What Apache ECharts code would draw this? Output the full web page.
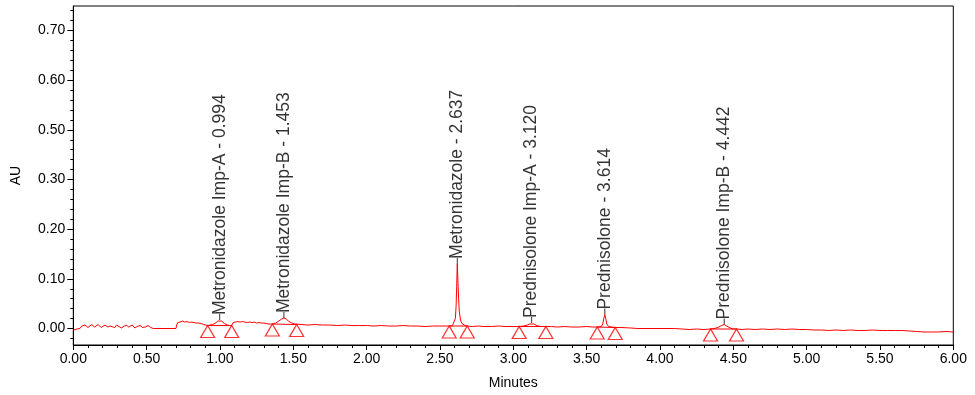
<!DOCTYPE html>
<html>
<head>
<meta charset="utf-8">
<script src="https://cdn.jsdelivr.net/npm/echarts@6/dist/echarts.min.js"></script>
<style>html,body{margin:0;padding:0;background:#fff;}#c{width:975px;height:395px;}</style>
</head>
<body>
<div id="c"></div>
<script>
// ---- data ----
const traceTime = [
0.000,0.012,0.025,0.035,0.045,0.058,0.068,0.080,0.100,0.112,0.125,0.145,0.158,0.170,0.190,0.203,0.216,0.236,0.250,0.262,
0.282,0.295,0.307,0.327,0.340,0.360,0.378,0.390,0.402,0.420,0.435,0.455,0.472,0.490,0.510,0.528,0.545,0.700,0.705,0.712,
0.720,0.728,0.736,0.744,0.752,0.760,0.768,0.776,0.784,0.792,0.800,0.808,0.816,0.824,0.832,0.840,0.848,0.856,0.864,0.872,
0.880,0.890,0.900,0.916,0.930,0.950,0.970,0.985,0.998,1.012,1.030,1.050,1.065,1.080,1.090,1.098,1.106,1.114,1.122,1.130,
1.138,1.146,1.154,1.162,1.170,1.178,1.186,1.194,1.202,1.210,1.218,1.226,1.234,1.242,1.250,1.258,1.266,1.274,1.282,1.290,
1.300,1.310,1.330,1.357,1.380,1.400,1.420,1.436,1.452,1.470,1.490,1.510,1.523,1.560,1.600,1.650,1.700,1.750,1.800,1.850,
1.900,1.950,2.000,2.050,2.100,2.150,2.200,2.250,2.300,2.350,2.400,2.450,2.500,2.563,2.585,2.598,2.605,2.610,2.614,2.618,
2.622,2.627,2.632,2.640,2.650,2.665,2.686,2.720,2.760,2.800,2.850,2.900,2.950,3.000,3.040,3.070,3.095,3.112,3.125,3.140,
3.160,3.185,3.222,3.260,3.300,3.350,3.400,3.450,3.500,3.540,3.572,3.600,3.610,3.617,3.624,3.631,3.638,3.650,3.670,3.695,
3.740,3.800,3.850,4.100,4.110,4.150,4.200,4.250,4.300,4.345,4.370,4.395,4.420,4.438,4.455,4.480,4.500,4.522,4.560,4.600,
4.650,4.700,4.750,4.800,4.850,4.900,4.950,5.000,5.050,5.100,5.150,5.200,5.250,5.300,5.350,5.400,5.450,5.500,5.550,5.600,
5.650,5.700,5.750,5.800,5.850,5.900,5.950,6.000
];
const traceAU = [
-0.003,-0.004,-0.001,0.001,0.000,0.005,0.003,0.007,0.002,0.006,0.008,0.003,0.005,0.008,0.002,0.006,0.007,0.003,0.005,0.008,
0.002,0.007,0.006,0.001,0.005,0.007,0.003,0.004,0.007,0.001,0.004,0.006,0.002,0.003,0.006,0.002,0.000,0.000,0.007,0.012,
0.009,0.013,0.010,0.015,0.011,0.013,0.010,0.014,0.010,0.012,0.009,0.013,0.010,0.012,0.009,0.011,0.008,0.011,0.009,0.010,
0.007,0.008,0.006,0.006,0.007,0.008,0.011,0.015,0.017,0.015,0.010,0.007,0.006,0.006,0.012,0.015,0.013,0.017,0.014,0.016,
0.013,0.017,0.014,0.016,0.013,0.015,0.012,0.016,0.013,0.015,0.012,0.016,0.013,0.014,0.011,0.015,0.012,0.014,0.011,0.013,
0.011,0.009,0.009,0.009,0.011,0.015,0.019,0.021,0.019,0.014,0.011,0.009,0.008,0.008,0.007,0.008,0.007,0.007,0.006,0.007,
0.006,0.006,0.006,0.005,0.006,0.005,0.005,0.006,0.005,0.005,0.004,0.005,0.005,0.005,0.006,0.009,0.020,0.045,0.085,0.130,
0.100,0.060,0.034,0.017,0.010,0.007,0.005,0.004,0.005,0.004,0.004,0.005,0.004,0.004,0.004,0.005,0.007,0.009,0.011,0.009,
0.006,0.004,0.004,0.004,0.003,0.004,0.003,0.003,0.004,0.003,0.003,0.004,0.009,0.020,0.028,0.019,0.009,0.004,0.003,0.002,
0.002,0.001,0.000,0.000,-0.002,-0.001,-0.002,-0.001,-0.002,-0.001,0.000,0.002,0.006,0.008,0.005,0.001,-0.001,-0.001,-0.002,-0.001,
-0.002,-0.001,-0.002,-0.001,-0.002,-0.001,-0.002,-0.002,-0.003,-0.003,-0.004,-0.003,-0.004,-0.003,-0.004,-0.004,-0.003,-0.004,-0.004,-0.004,
-0.004,-0.005,-0.006,-0.007,-0.007,-0.007,-0.006,-0.007
];
// peak labels
const peakNames = ['Metronidazole Imp-A - 0.994','Metronidazole Imp-B - 1.453','Metronidazole - 2.637',
                   'Prednisolone Imp-A - 3.120','Prednisolone - 3.614','Prednisolone Imp-B - 4.442'];
const peakTimes = [0.998, 1.436, 2.618, 3.125, 3.624, 4.438];
const peakHeights = [0.017, 0.021, 0.130, 0.011, 0.028, 0.008];
// integration baseline start / end points
const baseStartTime = [0.916, 1.357, 2.563, 3.040, 3.572, 4.345];
const baseStartAU   = [0.006, 0.009, 0.005, 0.004, 0.003, -0.001];
const baseEndTime   = [1.080, 1.523, 2.686, 3.222, 3.695, 4.522];
const baseEndAU     = [0.006, 0.008, 0.005, 0.004, 0.002, -0.001];
// axis ticks
const xTickLabels = ['0.00','0.50','1.00','1.50','2.00','2.50','3.00','3.50','4.00','4.50','5.00','5.50','6.00'];
const yTickValues = [0, 0.1, 0.2, 0.3, 0.4, 0.5, 0.6];
const yTickLabels = ['0.00','0.10','0.20','0.30','0.50','0.60','0.70'];
const yMinorValues = [-0.02,0.02,0.04,0.06,0.08,0.12,0.14,0.16,0.18,0.22,0.24,0.26,0.28,0.32,0.34,0.36,0.38,
                      0.42,0.44,0.46,0.48,0.52,0.54,0.56,0.58,0.62,0.64];

const RED = '#ff0000';
const FONT = 'Arial, "Liberation Sans", sans-serif';
const yMin = -0.0332, yMax = 0.6494;

const trace = traceTime.map((t, i) => [t, traceAU[i]]);
const tri = [];
const baseLines = [];
baseStartTime.forEach((t, i) => {
  tri.push([t, baseStartAU[i]]);
  tri.push([baseEndTime[i], baseEndAU[i]]);
  baseLines.push([t, baseStartAU[i]]);
  baseLines.push([baseEndTime[i], baseEndAU[i]]);
  baseLines.push(null);
});
const peaks = peakTimes.map((t, i) => ({value: [t, peakHeights[i]], name: peakNames[i]}));

const chart = echarts.init(document.getElementById('c'), null, {renderer: 'canvas'});
chart.setOption({
  animation: false,
  backgroundColor: '#fff',
  textStyle: {fontFamily: FONT},
  grid: {left: 73.3, right: 21.7, top: 6, bottom: 47.7, show: true, borderColor: '#000', borderWidth: 1, containLabel: false},
  xAxis: {
    type: 'value', min: 0, max: 6, interval: 0.5,
    name: 'Minutes', nameLocation: 'middle', nameGap: 31,
    nameTextStyle: {color: '#000', fontSize: 14, fontFamily: FONT},
    axisLine: {show: true, onZero: false, lineStyle: {color: '#000', width: 1}},
    axisTick: {show: true, inside: false, length: 5, lineStyle: {color: '#000'}},
    minorTick: {show: true, splitNumber: 5, length: 3, lineStyle: {color: '#000'}},
    splitLine: {show: false},
    axisLabel: {color: '#000', fontSize: 14, fontFamily: FONT, margin: 7,
      formatter: (v) => xTickLabels[Math.round(v / 0.5)]}
  },
  yAxis: [{
    type: 'value', min: yMin, max: yMax, position: 'left',
    name: 'AU', nameLocation: 'middle', nameGap: 50, nameRotate: 90,
    nameTextStyle: {color: '#000', fontSize: 14, fontFamily: FONT},
    axisLine: {show: true, onZero: false, lineStyle: {color: '#000', width: 1}},
    axisTick: {show: true, inside: false, length: 6, customValues: yTickValues, lineStyle: {color: '#000'}},
    splitLine: {show: false},
    axisLabel: {color: '#000', fontSize: 14, fontFamily: FONT, margin: 8, customValues: yTickValues,
      formatter: (v) => yTickLabels[Math.round(v / 0.1)]}
  }, {
    type: 'value', min: yMin, max: yMax, position: 'left', offset: 0,
    axisLine: {show: false},
    axisTick: {show: true, inside: false, length: 3, customValues: yMinorValues, lineStyle: {color: '#000'}},
    axisLabel: {show: false},
    splitLine: {show: false}
  }],
  series: [{
    type: 'line', name: 'trace', data: trace, showSymbol: false, symbol: 'none',
    lineStyle: {color: RED, width: 1}, clip: true, z: 3
  }, {
    type: 'line', name: 'baseline', data: baseLines, showSymbol: false, symbol: 'none', connectNulls: false,
    lineStyle: {color: RED, width: 1}, z: 3
  }, {
    type: 'scatter', name: 'marks', data: tri, symbol: 'triangle', symbolSize: [14, 12], symbolOffset: [0, 6],
    itemStyle: {color: 'rgba(255,255,255,0)', borderColor: RED, borderWidth: 1.2}, z: 4
  }, {
    type: 'scatter', name: 'leader', data: peaks, symbol: 'rect', symbolSize: [1, 6], symbolOffset: [0, -3],
    itemStyle: {color: '#000'}, z: 5
  }, {
    type: 'scatter', name: 'labels', data: peaks, symbolSize: 0.01,
    itemStyle: {color: 'rgba(0,0,0,0)'}, z: 6,
    label: {show: true, position: 'top', distance: 5, rotate: 90, align: 'left', verticalAlign: 'middle',
      color: '#000', fontSize: 17.5, fontFamily: FONT, formatter: (p) => p.name}
  }]
});
</script>
</body>
</html>
